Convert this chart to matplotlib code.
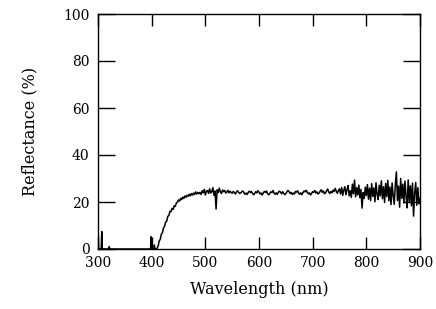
import numpy as np
import matplotlib
matplotlib.use("Agg")
import matplotlib.pyplot as plt

# Low-wavelength segment (mostly zero with isolated spikes)
wl_low = [300, 300.5, 301, 302, 305, 306, 307, 308, 309, 320, 321, 322, 396, 398, 399, 400, 402, 404, 405, 406, 408]
ref_low = [0, 6.0, 0.2, 0, 0, 0.3, 7.4, 0.2, 0, 0, 1.0, 0, 0, 0.2, 5.2, 0.1, 0, 0, 1.7, 0, 0]

# Main segment, 410-900 nm sampled every 2 nm
ref_main = [
    0.3, 1.2, 3.4, 4.1, 6.3, 6.9, 9.0, 9.6, 11.5, 11.8,      # 410
    13.9, 14.2, 16.0, 15.9, 17.3, 16.8, 18.4, 18.1, 19.6, 19.9,  # 430
    20.9, 20.4, 21.6, 21.0, 22.1, 21.5, 22.6, 22.0, 22.9, 22.4,  # 450
    23.3, 22.6, 23.6, 22.9, 23.8, 23.2, 24.3, 23.4, 24.1, 23.5,  # 470
    24.1, 23.2, 24.8, 23.9, 25.4, 23.0, 24.6, 24.9, 23.7, 25.6,  # 490
    23.8, 24.4, 26.1, 22.9, 24.7, 17.0, 25.2, 24.0, 25.9, 24.3,  # 510
    23.6, 25.1, 24.4, 24.9, 23.8, 24.2, 25.0, 23.9, 24.6, 24.1,  # 530
    23.7, 24.5, 24.0, 23.4, 24.3, 24.8, 24.1, 23.6, 23.9, 24.4,  # 550
    24.7, 23.9, 23.3, 23.8, 23.2, 24.1, 24.6, 24.0, 24.5, 23.6,  # 570
    23.1, 23.7, 24.4, 23.9, 24.8, 24.2, 23.4, 23.8, 23.0, 23.9,  # 590
    24.5, 24.1, 24.7, 23.5, 23.1, 23.6, 24.3, 24.0, 24.9, 23.8,  # 610
    23.3, 23.9, 23.2, 24.1, 24.6, 24.2, 23.5, 24.4, 23.7, 23.1,  # 630
    23.6, 24.3, 24.9, 24.4, 23.6, 24.1, 23.2, 23.8, 23.4, 24.5,  # 650
    24.2, 24.8, 23.7, 23.3, 23.9, 23.1, 24.0, 24.7, 24.3, 25.0,  # 670
    24.1, 23.5, 23.9, 23.0, 23.6, 24.4, 24.1, 24.9, 23.8, 24.3,  # 690
    23.4, 23.8, 24.6, 25.2, 24.1, 24.7, 23.5, 23.9, 24.8, 25.5,  # 710
    24.2, 23.6, 24.5, 23.9, 25.1, 24.4, 25.8, 24.6, 23.7, 24.9,  # 730
    25.6, 23.4, 26.2, 22.8, 25.0, 26.5, 23.1, 25.3, 27.0, 22.6,  # 750
    24.8, 21.9, 27.6, 23.5, 29.3, 22.2, 26.1, 23.0, 27.2, 21.8,  # 770
    25.4, 17.4, 24.0, 21.5, 26.3, 22.7, 27.4, 21.2, 25.9, 20.6,  # 790
    27.8, 22.4, 26.0, 20.1, 28.2, 23.3, 21.0, 27.1, 22.6, 29.0,  # 810
    21.4, 26.5, 19.8, 27.9, 22.3, 29.2, 20.5, 26.4, 18.9, 28.1,  # 830
    22.7, 19.0, 27.3, 32.8, 20.6, 26.8, 17.8, 30.0, 21.5, 27.6,  # 850
    19.6, 28.9, 22.4, 17.5, 29.4, 20.3, 26.9, 18.4, 28.0, 14.0,  # 870
    23.8, 28.3, 18.6, 26.1, 19.2, 21.5,                          # 890
]
wl_main = np.linspace(410, 900, len(ref_main))

x_ticks = [300, 400, 500, 600, 700, 800, 900]
y_ticks = [0, 20, 40, 60, 80, 100]

wl = np.concatenate([wl_low, wl_main])
ref = np.concatenate([ref_low, ref_main])

plt.rcParams['font.family'] = ['DejaVu Serif']
fig = plt.figure(figsize=(4.36, 3.09), dpi=100)
ax = fig.add_axes([98/436, 60/309, 322/436, 235/309])
ax.plot(wl, ref, color='black', lw=1.1)
ax.set_xlim(300, 900)
ax.set_ylim(0, 100)
ax.set_xticks(x_ticks)
ax.set_yticks(y_ticks)
ax.tick_params(axis='x', direction='in', length=8.6, width=1.0, top=True, labelsize=10, pad=5)
ax.tick_params(axis='y', direction='in', length=12.2, width=1.0, right=True, labelsize=10, pad=6)
for s in ax.spines.values():
    s.set_linewidth(1.0)
ax.set_xlabel('Wavelength (nm)', fontsize=11.5, labelpad=8)
ax.set_ylabel('Reflectance (%)', fontsize=11.5, labelpad=18)
fig.savefig('out.png', dpi=100)
